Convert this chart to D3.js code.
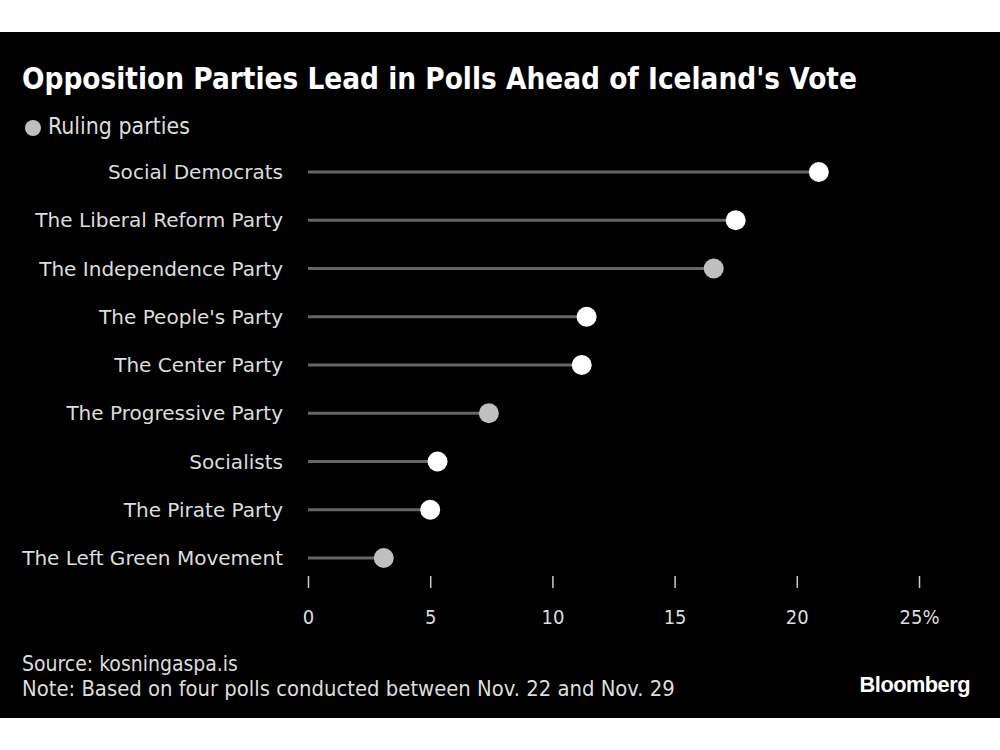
<!DOCTYPE html>
<html><head><meta charset="utf-8">
<script src="https://cdn.jsdelivr.net/npm/d3@7"></script>
<style>html,body{margin:0;padding:0;background:#fff;}svg{display:block;}</style>
</head><body>
<script>
const parties = ["Social Democrats","The Liberal Reform Party","The Independence Party","The People's Party","The Center Party","The Progressive Party","Socialists","The Pirate Party","The Left Green Movement"];
const shares = [20.9,17.5,16.6,11.4,11.2,7.4,5.3,5.0,3.1];
const ruling = [false,false,true,false,false,true,false,false,true];
const tickValues = [0,5,10,15,20,25];
const tickLabels = ["0","5","10","15","20","25%"];

const W=1000,H=750;
const fontMain = "'DejaVu Sans', sans-serif";
const fontCond = "'DejaVu Sans Condensed', 'DejaVu Sans', sans-serif";
const svg = d3.select("body").append("svg").attr("width",W).attr("height",H);
svg.append("rect").attr("x",0).attr("y",32).attr("width",W).attr("height",686).attr("fill","#000");

// scale a text's font size so its width matches a target width
function fit(sel, target){
  const n = sel.node(); const fs = +sel.attr("font-size");
  const w = n.getComputedTextLength();
  if (w>0) sel.attr("font-size", (fs*target/w).toFixed(2));
  return sel;
}

fit(svg.append("text").attr("x",22).attr("y",89).attr("fill","#fff")
  .attr("font-family",fontCond).attr("font-weight","bold").attr("font-size",26)
  .text("Opposition Parties Lead in Polls Ahead of Iceland's Vote"), 835);

svg.append("circle").attr("cx",33).attr("cy",128).attr("r",8).attr("fill","#bfbfbf");
fit(svg.append("text").attr("x",48).attr("y",134).attr("fill","#ddd")
  .attr("font-family",fontCond).attr("font-size",19).text("Ruling parties"), 142);

const x = d3.scaleLinear().domain([0,25]).range([308,919]);
const y = d3.scalePoint().domain(parties).range([172,558]);

const data = parties.map((p,i)=>({p,v:shares[i],r:ruling[i]}));
const g = svg.append("g");
g.selectAll("line.stem").data(data).join("line").attr("class","stem")
  .attr("x1",x(0)).attr("x2",d=>x(d.v)).attr("y1",d=>y(d.p)).attr("y2",d=>y(d.p))
  .attr("stroke","#666").attr("stroke-width",3);
g.selectAll("circle.dot").data(data).join("circle").attr("class","dot")
  .attr("cx",d=>x(d.v)).attr("cy",d=>y(d.p)).attr("r",10)
  .attr("fill",d=>d.r?"#bfbfbf":"#fff");
const labs = g.selectAll("text.lab").data(data).join("text").attr("class","lab")
  .attr("x",283).attr("y",d=>y(d.p)).attr("dy","0.35em").attr("text-anchor","end")
  .attr("fill","#ddd").attr("font-family",fontMain).attr("font-size",20).text(d=>d.p);
// size labels so the longest matches reference width
const longest = labs.filter(d=>d.p==="The Left Green Movement");
const lw = longest.node().getComputedTextLength();
labs.attr("font-size",(20*261/lw).toFixed(2));

const axis = d3.axisBottom(x).tickValues(tickValues).tickFormat((d,i)=>tickLabels[i]).tickSize(12).tickPadding(22);
const ax = svg.append("g").attr("transform","translate(0,576)").call(axis);
ax.select(".domain").remove();
ax.selectAll(".tick line").attr("stroke","#ccc").attr("stroke-width",1.5);
ax.selectAll(".tick text").attr("fill","#ddd").attr("font-family",fontCond).attr("font-size",20);

fit(svg.append("text").attr("x",22).attr("y",671).attr("fill","#ddd").attr("font-family",fontCond).attr("font-size",19).text("Source: kosningaspa.is"), 216);
fit(svg.append("text").attr("x",22).attr("y",696).attr("fill","#ddd").attr("font-family",fontCond).attr("font-size",19).text("Note: Based on four polls conducted between Nov. 22 and Nov. 29"), 653);
fit(svg.append("text").attr("x",970).attr("y",692).attr("text-anchor","end").attr("fill","#fff").attr("font-family","'Liberation Sans', Arial, sans-serif").attr("font-weight","bold").attr("font-size",20).attr("letter-spacing",-0.5).text("Bloomberg"), 110);
</script>
</body></html>
